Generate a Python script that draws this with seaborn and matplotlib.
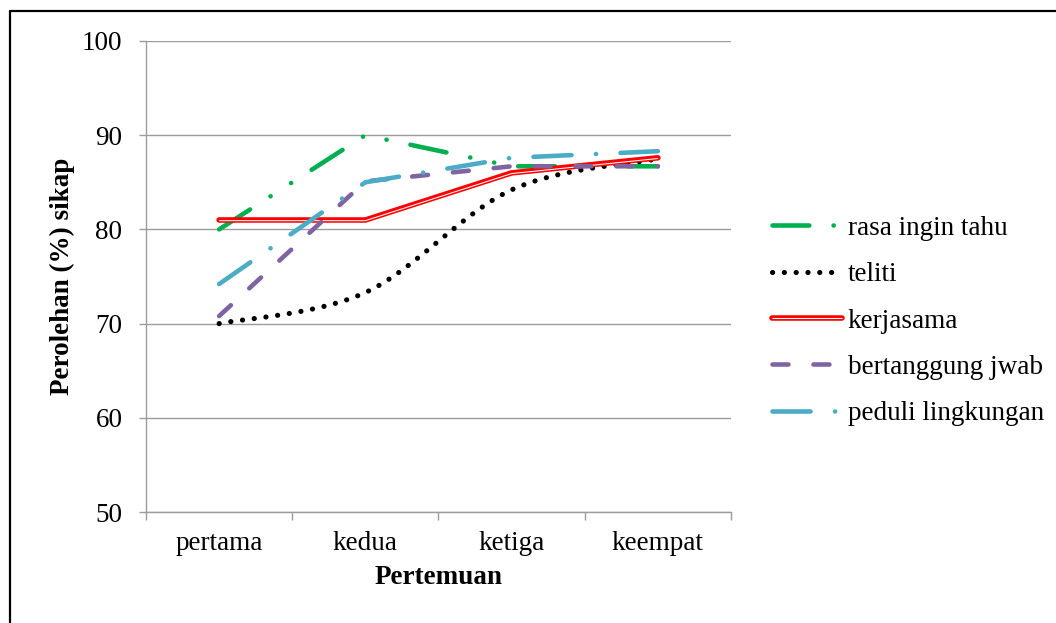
import numpy as np
import pandas as pd
import matplotlib
matplotlib.use('Agg')
import matplotlib.pyplot as plt
import matplotlib.transforms as mtransforms
from matplotlib.lines import Line2D
import seaborn as sns

# data
pertemuan = ['pertama', 'kedua', 'ketiga', 'keempat']
rasa_ingin_tahu = [80.0, 90.0, 86.7, 86.7]
teliti = [70.0, 73.3, 84.2, 87.5]
kerjasama = [81.0, 81.0, 86.0, 87.6]
bertanggung_jwab = [70.8, 85.1, 86.7, 86.7]
peduli_lingkungan = [74.2, 85.0, 87.6, 88.3]

sns.set_style('white')
plt.rcParams['font.family'] = ['Liberation Serif', 'DejaVu Serif']
plt.rcParams['lines.scale_dashes'] = False
plt.rcParams['text.color'] = 'black'
plt.rcParams['axes.labelcolor'] = 'black'
plt.rcParams['xtick.labelcolor'] = 'black'
plt.rcParams['ytick.labelcolor'] = 'black'

FS = 19.5
LW = 3.3
grid_col = '#9c9c9c'

fig = plt.figure(figsize=(10.56, 6.23), dpi=100)
ax = fig.add_axes([146 / 1056, 1 - 512 / 623, 585 / 1056, 471 / 623])

x = np.arange(len(pertemuan))


def smooth(xs, ys, n=40):
    # Bezier smoothing like a spreadsheet "smoothed line"
    xs = np.asarray(xs, float)
    ys = np.asarray(ys, float)
    px, py = [], []
    for i in range(len(xs) - 1):
        i0 = max(i - 1, 0)
        i3 = min(i + 2, len(xs) - 1)
        c1x = xs[i] + (xs[i + 1] - xs[i0]) / 6
        c1y = ys[i] + (ys[i + 1] - ys[i0]) / 6
        c2x = xs[i + 1] - (xs[i3] - xs[i]) / 6
        c2y = ys[i + 1] - (ys[i3] - ys[i]) / 6
        t = np.linspace(0, 1, n)
        bx = ((1 - t) ** 3 * xs[i] + 3 * (1 - t) ** 2 * t * c1x
              + 3 * (1 - t) * t ** 2 * c2x + t ** 3 * xs[i + 1])
        by = ((1 - t) ** 3 * ys[i] + 3 * (1 - t) ** 2 * t * c1y
              + 3 * (1 - t) * t ** 2 * c2y + t ** 3 * ys[i + 1])
        px.extend(bx)
        py.extend(by)
    return pd.DataFrame({'x': px, 'y': py})


styles = {
    'rasa ingin tahu': dict(color='#00B050', lw=LW,
                            ls=(0, (26.5, 17.5, 0.1, 17.5, 0.1, 17.5))),
    'teliti': dict(color='black', lw=3.7, ls=(0, (0.1, 8.4))),
    'bertanggung jwab': dict(color='#8064A2', lw=LW, ls=(0, (11.5, 18.0))),
    'peduli lingkungan': dict(color='#4BACC6', lw=LW,
                              ls=(0, (27.4, 17.6, 0.1, 17.6))),
}

# rasa ingin tahu
df = pd.DataFrame({'x': x, 'y': rasa_ingin_tahu})
st = styles['rasa ingin tahu']
sns.lineplot(data=df, x='x', y='y', ax=ax, color=st['color'], linewidth=st['lw'],
             linestyle=st['ls'], dash_capstyle='round', solid_capstyle='round',
             estimator=None, sort=False)

# teliti (smoothed)
df = smooth(x, teliti)
st = styles['teliti']
sns.lineplot(data=df, x='x', y='y', ax=ax, color=st['color'], linewidth=st['lw'],
             linestyle=st['ls'], dash_capstyle='round', estimator=None, sort=False)

# kerjasama: compound red line with white core
df = pd.DataFrame({'x': x, 'y': kerjasama})
sns.lineplot(data=df, x='x', y='y', ax=ax, color='#FF0000', linewidth=4.0,
             solid_capstyle='round', solid_joinstyle='miter',
             estimator=None, sort=False)
sns.lineplot(data=df, x='x', y='y', ax=ax, color='white', linewidth=0.75,
             solid_capstyle='butt', estimator=None, sort=False)
core = ax.get_lines()[-1]
core.set_transform(mtransforms.offset_copy(ax.transData, fig=fig, y=-0.5,
                                           units='points'))

for name, vals in [('bertanggung jwab', bertanggung_jwab),
                   ('peduli lingkungan', peduli_lingkungan)]:
    df = pd.DataFrame({'x': x, 'y': vals})
    st = styles[name]
    sns.lineplot(data=df, x='x', y='y', ax=ax, color=st['color'],
                 linewidth=st['lw'], linestyle=st['ls'], dash_capstyle='round',
                 solid_capstyle='round', estimator=None, sort=False)

# axes styling
ax.set_xlim(-0.5, 3.5)
ax.set_ylim(50, 100)
ax.set_yticks(range(50, 101, 10))
ax.set_xticks(x)
ax.set_xticklabels(pertemuan)
ax.set_xticks(np.arange(-0.5, 3.6, 1), minor=True)
ax.grid(axis='y', color=grid_col, linewidth=1.0)
ax.grid(axis='x', visible=False)
ax.set_axisbelow(True)
for side in ['top', 'right']:
    ax.spines[side].set_visible(False)
for side in ['left', 'bottom']:
    ax.spines[side].set_color(grid_col)
    ax.spines[side].set_linewidth(1.0)
ax.tick_params(axis='y', which='major', length=5, width=1.0, color=grid_col,
               pad=12, labelsize=FS, left=True, labelcolor='black')
ax.tick_params(axis='x', which='major', length=0, pad=14, labelsize=FS,
               labelcolor='black')
ax.tick_params(axis='x', which='minor', length=6, width=1.0, color=grid_col,
               bottom=True)

ax.set_xlabel('Pertemuan', fontsize=FS, fontweight='bold', labelpad=6,
              color='black')
ax.set_ylabel('Perolehan (%) sikap', fontsize=FS, fontweight='bold', labelpad=5,
              color='black')

# legend
handles = []
for name in ['rasa ingin tahu', 'teliti']:
    st = styles[name]
    handles.append(Line2D([], [], color=st['color'], lw=st['lw'], ls=st['ls'],
                          dash_capstyle='round', solid_capstyle='round'))
red = (Line2D([], [], color='#FF0000', lw=4.0, solid_capstyle='round'),
       Line2D([], [], color='white', lw=0.75, solid_capstyle='butt'))
handles.append(red)
for name in ['bertanggung jwab', 'peduli lingkungan']:
    st = styles[name]
    handles.append(Line2D([], [], color=st['color'], lw=st['lw'], ls=st['ls'],
                          dash_capstyle='round', solid_capstyle='round'))
labels = ['rasa ingin tahu', 'teliti', 'kerjasama', 'bertanggung jwab',
          'peduli lingkungan']
leg = fig.legend(handles, labels, loc='center left',
                 bbox_to_anchor=(772 / 1056, 1 - 321 / 623), frameon=False,
                 fontsize=FS, handlelength=2.6, handletextpad=0.2,
                 labelspacing=0.79, borderpad=0, borderaxespad=0)
for t in leg.get_texts():
    t.set_color('black')

# outer frame (top and left edges visible in the reference)
fig.add_artist(Line2D([10 / 1056, 10 / 1056, 1.0],
                      [0.0, 1 - 11 / 623, 1 - 11 / 623],
                      transform=fig.transFigure, color='black', lw=1.6))

fig.savefig('out.png', dpi=100)
